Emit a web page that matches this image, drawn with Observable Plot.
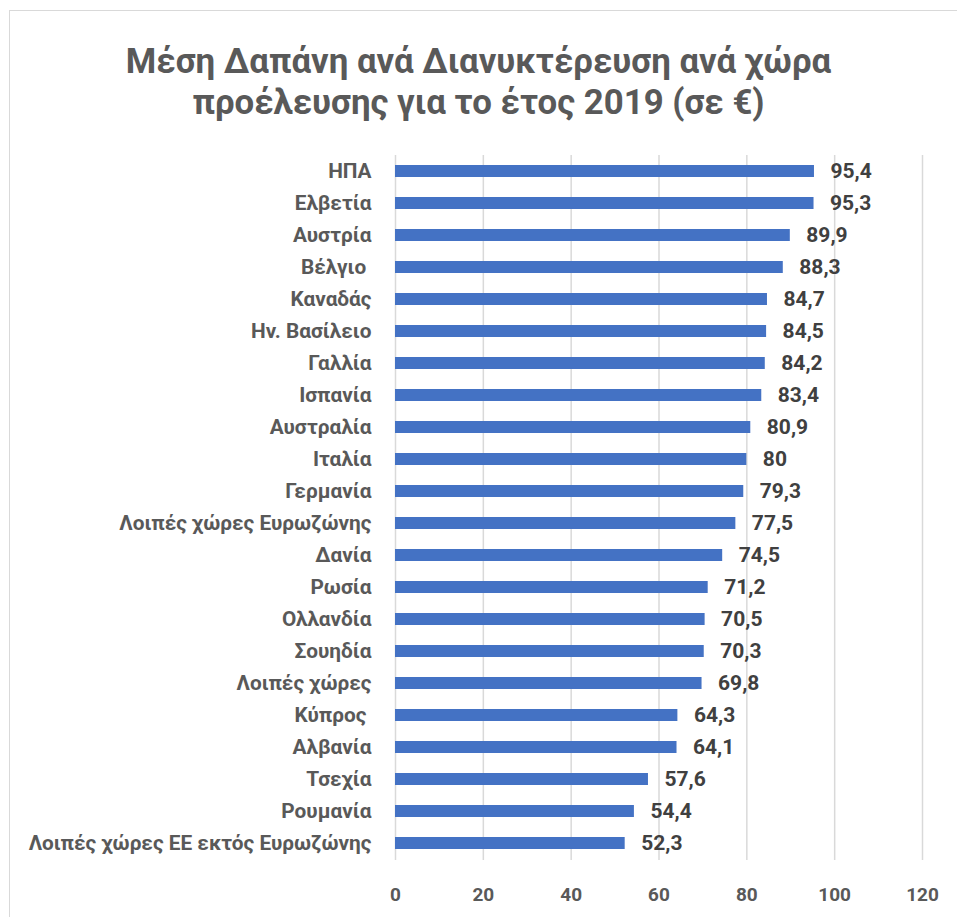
<!DOCTYPE html>
<html>
<head>
<meta charset="utf-8">
<script src="https://cdn.jsdelivr.net/npm/d3@7"></script>
<script src="https://cdn.jsdelivr.net/npm/@observablehq/plot@0.6"></script>
<style>
  html, body { margin: 0; padding: 0; background: #fff; }
  body { width: 957px; height: 917px; position: relative; overflow: hidden; font-family: Roboto, "Open Sans", sans-serif; }
  #frame { position: absolute; left: 9px; top: 10px; width: 960px; height: 920px; border-top: 1.5px solid #d9d9d9; border-left: 1.5px solid #d9d9d9; }
  #title { position: absolute; left: 0; width: 957px; top: 41px; text-align: center; font-size: 34.8px; font-weight: bold; color: #595959; line-height: 41px; }
  #chart { position: absolute; left: 0; top: 130px; }
  #chart svg text { white-space: pre; }
</style>
</head>
<body>
<div id="frame"></div>
<div id="title">Μέση Δαπάνη ανά Διανυκτέρευση ανά χώρα<br>προέλευσης για το έτος 2019 (σε €)</div>
<div id="chart"></div>
<script>
const countries = [
  "ΗΠΑ", "Ελβετία", "Αυστρία", "Βέλγιο ", "Καναδάς", "Ην. Βασίλειο", "Γαλλία",
  "Ισπανία", "Αυστραλία", "Ιταλία", "Γερμανία", "Λοιπές χώρες Ευρωζώνης", "Δανία",
  "Ρωσία", "Ολλανδία", "Σουηδία", "Λοιπές χώρες", "Κύπρος ", "Αλβανία", "Τσεχία",
  "Ρουμανία", "Λοιπές χώρες ΕΕ εκτός Ευρωζώνης"
];
const values = [95.4, 95.3, 89.9, 88.3, 84.7, 84.5, 84.2, 83.4, 80.9, 80, 79.3, 77.5, 74.5,
  71.2, 70.5, 70.3, 69.8, 64.3, 64.1, 57.6, 54.4, 52.3];
const xTicks = [0, 20, 40, 60, 80, 100, 120];

const data = countries.map((c, i) => ({country: c, value: values[i]}));
const fmt = v => String(v).replace(".", ",");

const chart = Plot.plot({
  width: 957,
  height: 787,
  marginTop: 25,
  marginBottom: 57,
  marginLeft: 395,
  marginRight: 35,
  style: {fontFamily: "Roboto, 'Open Sans', sans-serif", background: "transparent"},
  x: {domain: [0, 120], ticks: xTicks, label: null},
  y: {domain: countries, label: null, paddingInner: 0.61, paddingOuter: 0.305},
  marks: [
    Plot.gridX(xTicks, {stroke: "#d9d9d9", strokeOpacity: 1, strokeWidth: 1.5}),
    Plot.barX(data, {x: "value", y: "country", fill: "#4472C4"}),
    Plot.text(data, {x: "value", y: "country", text: d => fmt(d.value), textAnchor: "start", dx: 16, fontSize: 21, fontWeight: "bold", fill: "#404040"}),
    Plot.axisX({ticks: xTicks, tickSize: 0, tickPadding: 27, fontSize: 19, fontWeight: "bold", color: "#595959", label: null}),
    Plot.axisY({tickSize: 0, tickPadding: 24, fontSize: 20.8, fontWeight: "bold", color: "#595959", label: null})
  ]
});
document.getElementById("chart").appendChild(chart);
</script>
</body>
</html>
